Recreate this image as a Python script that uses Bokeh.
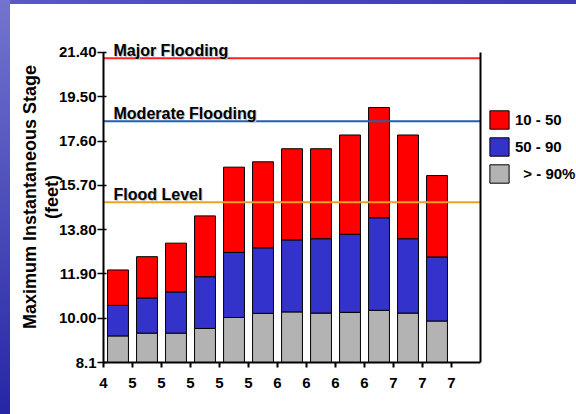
import math
from bokeh.plotting import figure
from bokeh.models import (Range1d, FixedTicker, Label, Legend, LegendItem, Title,
                          ColumnDataSource, InlineStyleSheet)
from bokeh.embed import file_html
from bokeh.resources import INLINE

# ---- data ----
x_tick_labels = ["4", "5", "5", "5", "5", "5", "6", "6", "6", "6", "7", "7", "7"]
y_ticks = [8.1, 10.0, 11.9, 13.8, 15.7, 17.6, 19.5, 21.4]
y_tick_labels = ["8.1", "10.00", "11.90", "13.80", "15.70", "17.60", "19.50", "21.40"]

# stage levels (top of each stacked band)
band_gt90 = [9.24, 9.36, 9.36, 9.56, 10.03, 10.21, 10.27, 10.22, 10.25, 10.34, 10.22, 9.88]
band_50_90 = [10.55, 10.87, 11.13, 11.78, 12.82, 13.02, 13.36, 13.41, 13.60, 14.31, 13.41, 12.63]
band_10_50 = [12.07, 12.64, 13.22, 14.39, 16.48, 16.71, 17.27, 17.27, 17.86, 19.04, 17.86, 16.12]

series_names = ["10 - 50", "50 - 90", "\u00a0\u00a0> - 90%"]
series_colors = ["#ff0000", "#3333cc", "#b3b3b3"]

flood_names = ["Major Flooding", "Moderate Flooding", "Flood Level"]
flood_stages = [21.15, 18.45, 14.97]
flood_colors = ["#ff2020", "#2060b0", "#f5a020"]

FONT = "Liberation Sans"
n_slots = len(x_tick_labels)
base = y_ticks[0]

src = ColumnDataSource(dict(
    x=[i + 0.5 for i in range(len(band_gt90))],
    base=[base] * len(band_gt90),
    gray=band_gt90, blue=band_50_90, red=band_10_50,
))

p = figure(width=576, height=414, output_backend="svg", toolbar_location=None,
           x_range=Range1d(0, 16.31), y_range=Range1d(y_ticks[0], 22.30),
           min_border_left=103, min_border_right=0, min_border_top=31,
           min_border_bottom=52, title=None)
p.outline_line_color = None
p.grid.visible = False
p.background_fill_color = "white"
p.border_fill_alpha = 0
p.stylesheets = [InlineStyleSheet(css="""
:host {
  background:
    linear-gradient(to bottom, #7474cf 0px, #2626a6 100%) left top / 10px 100% no-repeat,
    linear-gradient(to right, #5a5ac6 0%, #4646bd 50%, #3c3cb6 100%) left top / 100% 4px no-repeat,
    #ffffff;
}
""")]

# bars
r_gray = p.vbar(x="x", width=0.72, bottom="base", top="gray", source=src,
                fill_color=series_colors[2], line_color="black", line_width=1)
r_blue = p.vbar(x="x", width=0.72, bottom="gray", top="blue", source=src,
                fill_color=series_colors[1], line_color="black", line_width=1)
r_red = p.vbar(x="x", width=0.72, bottom="blue", top="red", source=src,
               fill_color=series_colors[0], line_color="black", line_width=1)

# flood lines
p.segment(x0=[0] * 3, x1=[n_slots] * 3, y0=flood_stages, y1=flood_stages,
          line_color=flood_colors, line_width=2)
for name, lvl in zip(flood_names, flood_stages):
    p.add_layout(Label(x=0, y=lvl, x_offset=11, y_offset=7, text=name,
                       text_font=FONT, text_font_style="bold", text_font_size="16px",
                       text_color="#c8c8c8", text_baseline="alphabetic"))
    p.add_layout(Label(x=0, y=lvl, x_offset=10, y_offset=8, text=name,
                       text_font=FONT, text_font_style="bold", text_font_size="16px",
                       text_color="black", text_baseline="alphabetic"))

# right border of the plot area
p.segment(x0=[n_slots], x1=[n_slots], y0=[y_ticks[0]], y1=[y_ticks[-1]],
          line_color="black", line_width=2)

# axes
xa = p.xaxis[0]
xa.ticker = FixedTicker(ticks=list(range(n_slots)))
xa.major_label_overrides = {i: t for i, t in enumerate(x_tick_labels)}
xa.bounds = (0, n_slots)
xa.axis_line_width = 2
xa.major_tick_out = 5
xa.major_tick_in = 0
xa.major_tick_line_width = 2
xa.minor_tick_line_color = None
xa.major_label_standoff = 10
xa.major_label_text_font = FONT
xa.major_label_text_font_style = "bold"
xa.major_label_text_font_size = "15px"
xa.major_label_text_color = "black"

ya = p.yaxis[0]
ya.ticker = FixedTicker(ticks=y_ticks)
ya.major_label_overrides = {v: t for v, t in zip(y_ticks, y_tick_labels)}
ya.bounds = (y_ticks[0], y_ticks[-1])
ya.axis_line_width = 2
ya.major_tick_out = 6
ya.major_tick_in = 3
ya.major_tick_line_width = 1.5
ya.minor_tick_line_color = None
ya.major_label_standoff = 1
ya.major_label_text_font = FONT
ya.major_label_text_font_style = "bold"
ya.major_label_text_font_size = "15px"
ya.major_label_text_color = "black"
ya.axis_label = "(feet)"
ya.axis_label_standoff = -6
ya.axis_label_text_font = FONT
ya.axis_label_text_font_style = "bold"
ya.axis_label_text_font_size = "18px"
ya.axis_label_text_color = "black"

p.add_layout(Title(text="Maximum Instantaneous Stage", align="center",
                   text_font=FONT, text_font_style="bold", text_font_size="18px",
                   text_color="black", standoff=-2), "left")

# legend
legend = Legend(items=[LegendItem(label=series_names[0], renderers=[r_red]),
                       LegendItem(label=series_names[1], renderers=[r_blue]),
                       LegendItem(label=series_names[2], renderers=[r_gray])],
                location=(384, 177), padding=0, margin=0, spacing=4,
                glyph_width=24, glyph_height=23, label_standoff=4,
                border_line_color=None, background_fill_alpha=0,
                label_text_font=FONT, label_text_font_style="bold",
                label_text_font_size="15px", label_text_color="black")
p.add_layout(legend)

open("out.html", "w").write(file_html(p, INLINE))
